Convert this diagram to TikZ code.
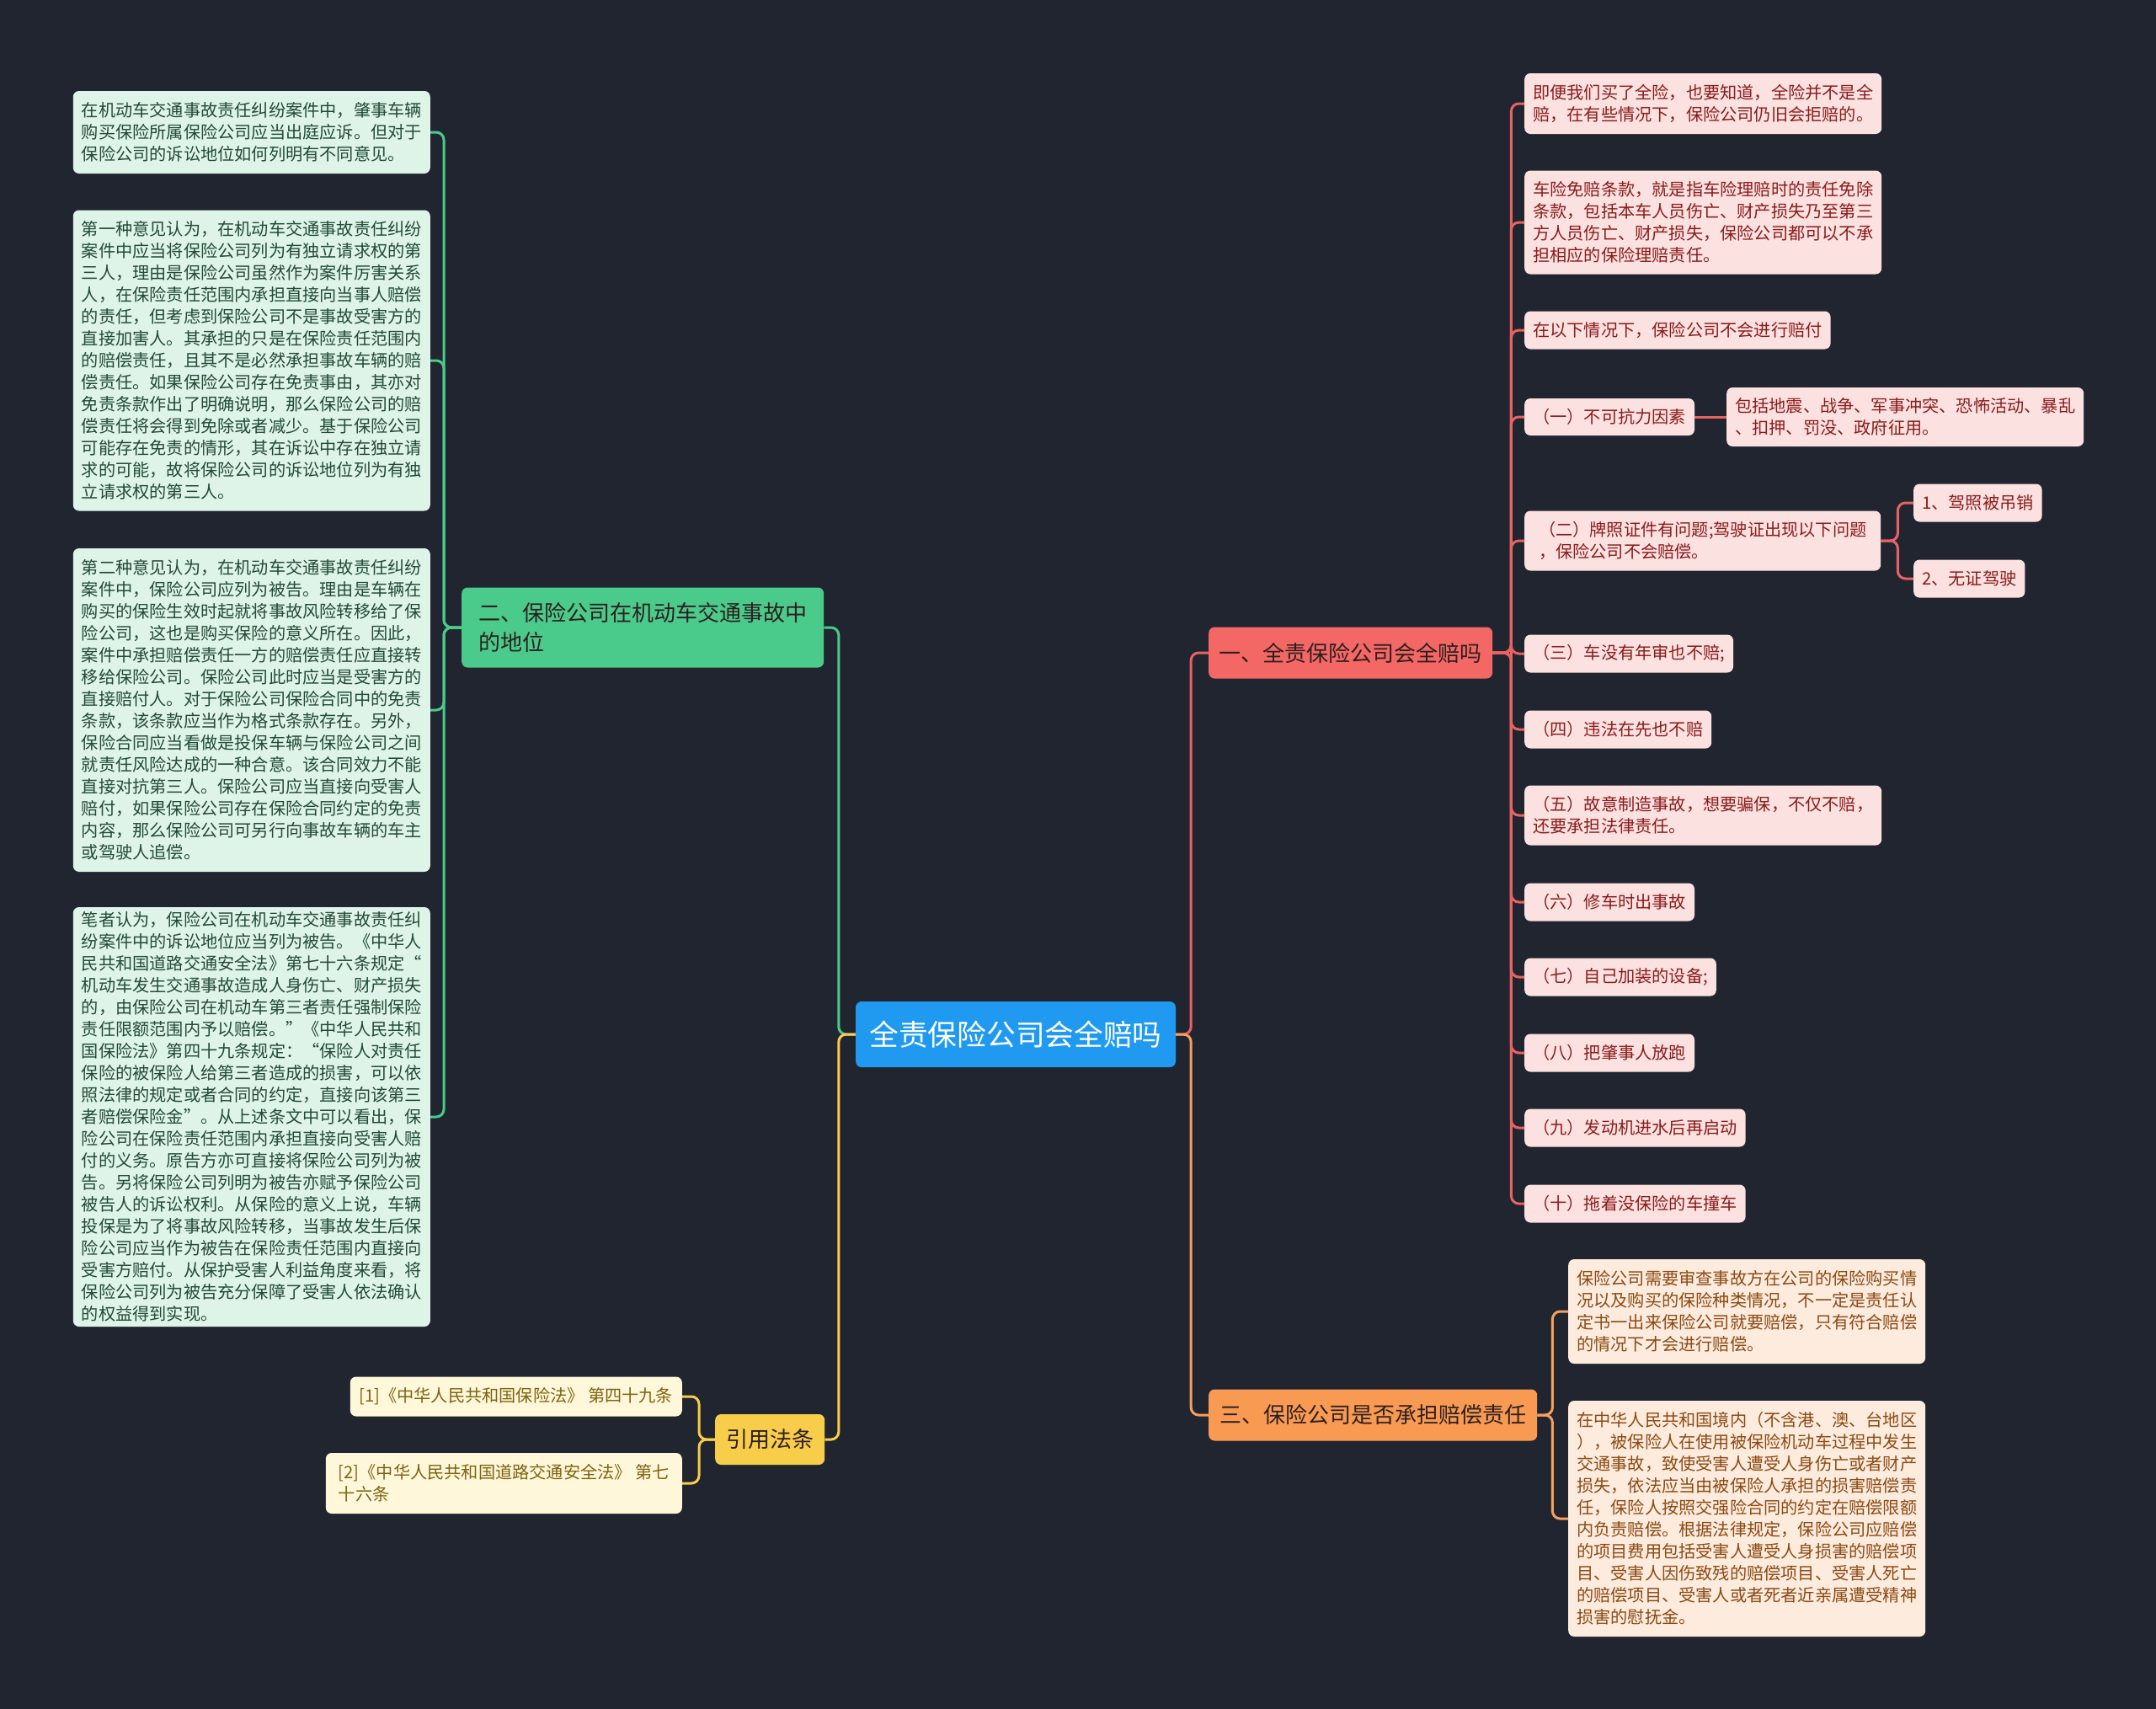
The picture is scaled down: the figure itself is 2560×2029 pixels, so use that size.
\documentclass[tikz,border=0pt]{standalone}
\usepackage{fontspec}
\setmainfont{Noto Sans CJK SC}
\usepackage{xcolor}
\definecolor{bgdark}{HTML}{21252F}
\definecolor{topicblue}{HTML}{1F9AF0}
\definecolor{redmain}{HTML}{F36764}
\definecolor{redpale}{HTML}{FCE1E1}
\definecolor{redtxt}{HTML}{8A1B1B}
\definecolor{linkred}{HTML}{E86262}
\definecolor{orangemain}{HTML}{F89A52}
\definecolor{orangepale}{HTML}{FDEBDE}
\definecolor{orangetxt}{HTML}{8B4A12}
\definecolor{linkorange}{HTML}{F3A060}
\definecolor{greenmain}{HTML}{4ACB8B}
\definecolor{greenpale}{HTML}{DEF4E8}
\definecolor{greentxt}{HTML}{234A36}
\definecolor{yellowmain}{HTML}{F8CD4A}
\definecolor{yellowpale}{HTML}{FFF7D9}
\definecolor{yellowtxt}{HTML}{7D6310}
\definecolor{branchtxt}{HTML}{2E1F1F}

\begin{document}
\begin{tikzpicture}[
      x=1pt, y=-1pt,
      every node/.style={align=left, rounded corners=7pt, inner xsep=10pt, inner ysep=4pt},
      topic/.style={fill=topicblue, text=white, font=\fontsize{34.7}{40}\selectfont,
                    minimum width=380pt, minimum height=78pt, align=center},
      branch/.style={fill=#1, text=branchtxt, font=\fontsize{26}{35}\selectfont,
                     minimum height=61pt, anchor=west},
      leaf/.style={font=\fontsize{20.2}{26}\selectfont, minimum height=45pt},
      redleaf/.style={leaf, fill=redpale, text=redtxt, anchor=west},
      orangeleaf/.style={leaf, fill=orangepale, text=orangetxt, anchor=west, minimum width=424pt},
      greenleaf/.style={leaf, fill=greenpale, text=greentxt, anchor=east, minimum width=424pt},
      citeleaf/.style={leaf, fill=yellowpale, text=yellowtxt, anchor=east},
      link/.style={draw=#1, line width=3pt, rounded corners=9pt},
    ]
    \fill[bgdark] (0,0) rectangle (2560,2029);

    % centre and main branches
    \node[topic] (root) at (1206,1228) {全责保险公司会全赔吗};
    \node[branch=redmain, minimum width=337pt]    (one)   at (1435,775)  {一、全责保险公司会全赔吗};
    \node[branch=orangemain, minimum width=390pt] (three) at (1435,1680) {三、保险公司是否承担赔偿责任};
    \node[branch=greenmain, minimum width=430pt, minimum height=95pt] (two) at (548,745)
      {二、保险公司在机动车交通事故中\\的地位};
    \node[branch=yellowmain, minimum width=130pt, minimum height=60pt] (cite) at (849,1709) {引用法条};

    % branch one
    \node[redleaf, minimum height=72pt, minimum width=423pt]  (r1)  at (1810,123)  {即便我们买了全险，也要知道，全险并不是全\\赔，在有些情况下，保险公司仍旧会拒赔的。};
    \node[redleaf, minimum height=123pt, minimum width=423pt] (r2)  at (1810,264)  {车险免赔条款，就是指车险理赔时的责任免除\\条款，包括本车人员伤亡、财产损失乃至第三\\方人员伤亡、财产损失，保险公司都可以不承\\担相应的保险理赔责任。};
    \node[redleaf]                       (r3)  at (1810,392)  {在以下情况下，保险公司不会进行赔付};
    \node[redleaf, minimum height=44pt]  (r4)  at (1810,495)  {（一）不可抗力因素};
    \node[redleaf, minimum height=70pt, minimum width=422pt]  (r4a) at (2050,495)  {包括地震、战争、军事冲突、恐怖活动、暴乱\\、扣押、罚没、政府征用。};
    \node[redleaf, minimum height=71pt, minimum width=423pt]  (r5)  at (1810,642)  {（二）牌照证件有问题;驾驶证出现以下问题\\，保险公司不会赔偿。};
    \node[redleaf]                       (r5a) at (2272,597)  {1、驾照被吊销};
    \node[redleaf]                       (r5b) at (2272,687)  {2、无证驾驶};
    \node[redleaf]                       (r6)  at (1810,776)  {（三）车没有年审也不赔;};
    \node[redleaf]                       (r7)  at (1810,866)  {（四）违法在先也不赔};
    \node[redleaf, minimum height=71pt, minimum width=423pt]  (r8)  at (1810,968)  {（五）故意制造事故，想要骗保，不仅不赔，\\还要承担法律责任。};
    \node[redleaf]                       (r9)  at (1810,1071) {（六）修车时出事故};
    \node[redleaf]                       (r10) at (1810,1160) {（七）自己加装的设备;};
    \node[redleaf]                       (r11) at (1810,1250) {（八）把肇事人放跑};
    \node[redleaf]                       (r12) at (1810,1339) {（九）发动机进水后再启动};
    \node[redleaf]                       (r13) at (1810,1429) {（十）拖着没保险的车撞车};

    % branch three
    \node[orangeleaf, minimum height=124pt] (o1) at (1862,1557) {保险公司需要审查事故方在公司的保险购买情\\况以及购买的保险种类情况，不一定是责任认\\定书一出来保险公司就要赔偿，只有符合赔偿\\的情况下才会进行赔偿。};
    \node[orangeleaf, minimum height=280pt] (o2) at (1862,1803) {在中华人民共和国境内（不含港、澳、台地区\\），被保险人在使用被保险机动车过程中发生\\交通事故，致使受害人遭受人身伤亡或者财产\\损失，依法应当由被保险人承担的损害赔偿责\\任，保险人按照交强险合同的约定在赔偿限额\\内负责赔偿。根据法律规定，保险公司应赔偿\\的项目费用包括受害人遭受人身损害的赔偿项\\目、受害人因伤致残的赔偿项目、受害人死亡\\的赔偿项目、受害人或者死者近亲属遭受精神\\损害的慰抚金。};

    % branch two
    \node[greenleaf, minimum height=98pt]  (g1) at (511,157)  {在机动车交通事故责任纠纷案件中，肇事车辆\\购买保险所属保险公司应当出庭应诉。但对于\\保险公司的诉讼地位如何列明有不同意见。};
    \node[greenleaf, minimum height=357pt] (g2) at (511,428)  {第一种意见认为，在机动车交通事故责任纠纷\\案件中应当将保险公司列为有独立请求权的第\\三人，理由是保险公司虽然作为案件厉害关系\\人，在保险责任范围内承担直接向当事人赔偿\\的责任，但考虑到保险公司不是事故受害方的\\直接加害人。其承担的只是在保险责任范围内\\的赔偿责任，且其不是必然承担事故车辆的赔\\偿责任。如果保险公司存在免责事由，其亦对\\免责条款作出了明确说明，那么保险公司的赔\\偿责任将会得到免除或者减少。基于保险公司\\可能存在免责的情形，其在诉讼中存在独立请\\求的可能，故将保险公司的诉讼地位列为有独\\立请求权的第三人。};
    \node[greenleaf, minimum height=384pt] (g3) at (511,843)  {第二种意见认为，在机动车交通事故责任纠纷\\案件中，保险公司应列为被告。理由是车辆在\\购买的保险生效时起就将事故风险转移给了保\\险公司，这也是购买保险的意义所在。因此，\\案件中承担赔偿责任一方的赔偿责任应直接转\\移给保险公司。保险公司此时应当是受害方的\\直接赔付人。对于保险公司保险合同中的免责\\条款，该条款应当作为格式条款存在。另外，\\保险合同应当看做是投保车辆与保险公司之间\\就责任风险达成的一种合意。该合同效力不能\\直接对抗第三人。保险公司应当直接向受害人\\赔付，如果保险公司存在保险合同约定的免责\\内容，那么保险公司可另行向事故车辆的车主\\或驾驶人追偿。};
    \node[greenleaf, minimum height=498pt] (g4) at (511,1326) {笔者认为，保险公司在机动车交通事故责任纠\\纷案件中的诉讼地位应当列为被告。《中华人\\民共和国道路交通安全法》第七十六条规定“\\机动车发生交通事故造成人身伤亡、财产损失\\的，由保险公司在机动车第三者责任强制保险\\责任限额范围内予以赔偿。”《中华人民共和\\国保险法》第四十九条规定：“保险人对责任\\保险的被保险人给第三者造成的损害，可以依\\照法律的规定或者合同的约定，直接向该第三\\者赔偿保险金”。从上述条文中可以看出，保\\险公司在保险责任范围内承担直接向受害人赔\\付的义务。原告方亦可直接将保险公司列为被\\告。另将保险公司列明为被告亦赋予保险公司\\被告人的诉讼权利。从保险的意义上说，车辆\\投保是为了将事故风险转移，当事故发生后保\\险公司应当作为被告在保险责任范围内直接向\\受害方赔付。从保护受害人利益角度来看，将\\保险公司列为被告充分保障了受害人依法确认\\的权益得到实现。};

    % cited laws
    \node[citeleaf, minimum height=47pt, minimum width=394pt] (c1) at (810,1658) {[1]《中华人民共和国保险法》 第四十九条};
    \node[citeleaf, minimum height=72pt, minimum width=423pt] (c2) at (810,1761) {[2]《中华人民共和国道路交通安全法》 第七\\十六条};

    % connectors
    \draw[link=linkred]    (root.east) -- ++(18,0) |- (one.west);
    \draw[link=linkorange] (root.east) -- ++(18,0) |- (three.west);
    \draw[link=greenmain]  (root.west) -- ++(-20,0) |- (two.east);
    \draw[link=yellowmain] (root.west) -- ++(-20,0) |- (cite.east);
    \foreach \c in {r1,r2,r3,r4,r5,r6,r7,r8,r9,r10,r11,r12,r13}
      \draw[link=linkred] (one.east) -- ++(22,0) |- (\c.west);
    \draw[link=linkred] (r4.east) -- (r4a.west);
    \foreach \c in {r5a,r5b}
      \draw[link=linkred] (r5.east) -- ++(20,0) |- (\c.west);
    \foreach \c in {o1,o2}
      \draw[link=linkorange] (three.east) -- ++(18,0) |- (\c.west);
    \foreach \c in {g1,g2,g3,g4}
      \draw[link=greenmain] (two.west) -- ++(-21,0) |- (\c.east);
    \foreach \c in {c1,c2}
      \draw[link=yellowmain] (cite.west) -- ++(-19,0) |- (\c.east);
  \end{tikzpicture}
\end{document}
